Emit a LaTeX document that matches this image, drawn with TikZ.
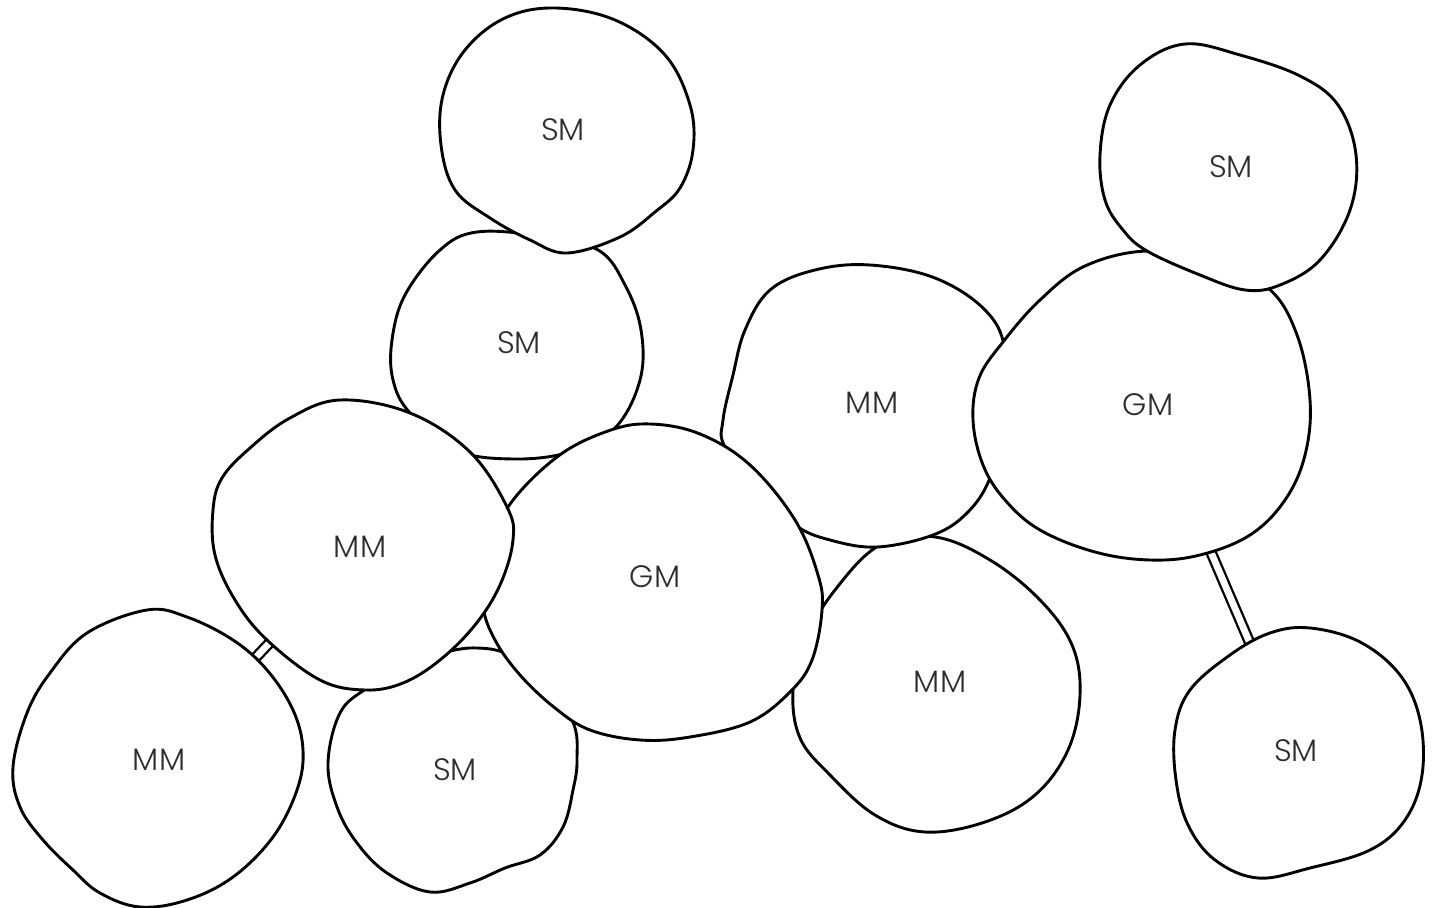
\documentclass[tikz,border=0pt]{standalone}
\usepackage{fontspec}
\setmainfont{Poppins Light}
\usepackage{tikz}
\usetikzlibrary{positioning}
\definecolor{ctext}{RGB}{45,45,45}
\pgfdeclarelayer{background}
\pgfsetlayers{background,main}
\tikzset{
  blob/.style={draw=black, fill=white, line width=1.45pt},
  tag/.style={text=ctext, font=\fontsize{15.5}{18}\selectfont, inner sep=0pt},
  link/.style={draw=black, double=white, line width=1.15pt, double distance=3.4pt}
}

\begin{document}
\begin{tikzpicture}[x=0.5pt, y=-0.5pt]
    \useasboundingbox (0,0) rectangle (1433,908);

    % bottom of the stack first
    \draw[blob] plot[smooth cycle, tension=0.62] coordinates {(880,545) (935,537) (990,560) (1040,600) (1072,645) (1080,695)
      (1068,750) (1035,795) (985,822) (925,832) (875,815) (830,775) (800,738) (793,690) (805,640) (835,590)};
    \node[tag] (mmC) at (940,682) {MM};

    \draw[blob] plot[smooth cycle, tension=0.62] coordinates {(870,265) (935,278) (985,310) (1005,350) (1005,420) (990,478)
      (967,513) (933,535) (877,547) (830,540) (795,525) (760,490) (725,447) (723,420) (733,375) (745,330)
      (770,290) (815,270)};
    \node[tag] (mmB) at (872,403) {MM};

    \draw[blob] plot[smooth cycle, tension=0.62] coordinates {(477,232) (540,236) (598,250) (625,285) (641,330) (640,380)
      (615,428) (570,452) (513,459) (455,450) (410,413) (393,380) (392,340) (405,295) (440,250)};
    \node[tag] (smB) at (519,343) {SM};

    \draw[blob] plot[smooth cycle, tension=0.62] coordinates {(555,8) (615,20) (665,55) (690,105) (693,150) (680,188)
      (655,212) (620,237) (567,253) (530,240) (490,218) (455,190) (441,145) (443,95) (465,50) (505,18)};
    \node[tag] (smA) at (563,130) {SM};

    \draw[blob] plot[smooth cycle, tension=0.62] coordinates {(477,648) (505,653) (535,672) (572,720) (577,760) (573,790)
      (563,827) (540,855) (505,868) (470,883) (430,892) (387,873) (357,843) (337,807) (328,763) (340,713)
      (367,688) (410,662) (450,651)};
    \node[tag] (smC) at (455,770) {SM};

    \draw[blob] plot[smooth cycle, tension=0.62] coordinates {(650,424) (700,434) (750,465) (795,520) (818,575) (822,610)
      (812,660) (790,692) (750,722) (690,737) (640,740) (590,730) (555,708) (520,675) (495,640) (483,605)
      (487,560) (508,507) (557,457) (608,431)};
    \node[tag] (gmA) at (655,577) {GM};

    \draw[blob] plot[smooth cycle, tension=0.62] coordinates {(340,400) (410,413) (470,452) (507,507) (513,540) (500,585)
      (475,625) (440,660) (403,683) (365,690) (320,680) (267,640) (235,600) (215,555) (213,510) (222,478)
      (250,448) (290,418)};
    \node[tag] (mmA) at (360,547) {MM};

    \draw[blob] plot[smooth cycle, tension=0.62] coordinates {(1147,251) (1210,262) (1268,288) (1297,335) (1310,400)
      (1305,455) (1285,500) (1250,535) (1200,555) (1150,560) (1095,552) (1040,530) (1005,500) (983,465)
      (973,420) (979,378) (1003,342) (1040,300) (1085,266)};
    \node[tag] (gmB) at (1148,405) {GM};

    \draw[blob] plot[smooth cycle, tension=0.62] coordinates {(1185,44) (1240,55) (1300,76) (1338,105) (1356,155)
      (1350,210) (1320,260) (1280,285) (1245,290) (1200,275) (1147,251) (1123,230) (1105,200) (1100,155)
      (1110,105) (1140,65)};
    \node[tag] (smD) at (1231,167) {SM};

    \draw[blob] plot[smooth cycle, tension=0.62] coordinates {(147,610) (187,617) (233,640) (267,670) (293,710) (303,750)
      (297,790) (273,837) (233,877) (187,900) (140,907) (100,893) (73,870) (43,840) (20,807) (13,767)
      (27,713) (50,673) (87,633)};
    \node[tag] (mmD) at (159,760) {MM};

    \draw[blob] plot[smooth cycle, tension=0.62] coordinates {(1310,628) (1360,642) (1400,675) (1420,720) (1422,775)
      (1405,820) (1370,850) (1310,868) (1258,878) (1215,860) (1188,825) (1176,780) (1175,730) (1190,690)
      (1230,655) (1270,633)};
    \node[tag] (smE) at (1296,751) {SM};

    \begin{pgfonlayer}{background}
      \draw[link] (mmA) -- (mmD);
      \draw[link] (gmB) -- (smE);
    \end{pgfonlayer}
\end{tikzpicture}
\end{document}
